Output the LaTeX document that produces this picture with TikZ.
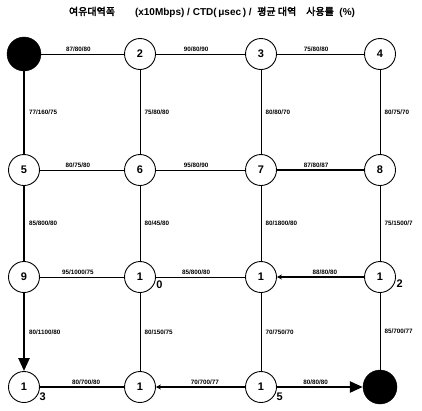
\documentclass[tikz,border=0pt]{standalone}
\usepackage{fontspec}
\setmainfont{Liberation Sans}
\setsansfont{Liberation Sans}
\newfontfamily\krfont[AutoFakeBold=3]{Noto Sans CJK KR}
\usetikzlibrary{arrows.meta}

\begin{document}
\begin{tikzpicture}[
  x=1pt, y=-1pt,
  font=\sffamily\bfseries,
  % Grid pitch: columns 24/140/261/380, rows 54/170/277/387.
  station/.style={draw, circle, minimum size=31pt, inner sep=0pt, line width=0.9pt,
    font=\sffamily\bfseries\fontsize{11}{12}\selectfont},
  endpt/.style={draw, circle, fill=black, minimum size=34pt, inner sep=0pt},
  digit/.style={font=\sffamily\bfseries\fontsize{11}{12}\selectfont, inner sep=0.5pt,
    label distance=0pt},
  link/.style={line width=1pt},
  hop/.style={line width=2.4pt},
  midhop/.style={line width=1.6pt},
  hlab/.style={font=\sffamily\bfseries\fontsize{6.3}{7}\selectfont, above, pos=0.45,
    inner sep=1.5pt},
  vlab/.style={font=\sffamily\bfseries\fontsize{6.3}{7}\selectfont, right, midway,
    inner sep=4pt},
  bigtip/.style={-{Triangle[length=13pt,width=11pt]}},
  smalltip/.style={-{Stealth[length=5pt,width=5pt]}}
]
\useasboundingbox (0,0) rectangle (422,410);

\node[font=\bfseries\fontsize{10}{11}\selectfont] (title) at (212,12)
  {{\krfont\bfseries 여유대역폭}\hspace{2em}(x10Mbps) / CTD(\,μsec\,) / \ {\krfont\bfseries 평균\ 대역\quad 사용률}\ \ (\%)};

% stations
\node[endpt] (n1) at (24,54) {};
\node[station] (n2) at (140,54) {2};
\node[station] (n3) at (261,54) {3};
\node[station] (n4) at (380,54) {4};
\node[station] (n5) at (24,170) {5};
\node[station] (n6) at (140,170) {6};
\node[station] (n7) at (261,170) {7};
\node[station] (n8) at (380,170) {8};
\node[station] (n9) at (24,277) {9};
\node[station, label={[digit]-12:0}] (n10) at (140,277) {1};
\node[station] (n11) at (261,277) {1};
\node[station, label={[digit]-8:2}] (n12) at (380,277) {1};
\node[station, label={[digit]-20:3}] (n13) at (24,387) {1};
\node[station] (n14) at (140,387) {1};
\node[station, label={[digit]-20:5}] (n15) at (261,387) {1};
\node[endpt] (n16) at (380,387) {};

% horizontal links
\draw[link] (n1) -- node[hlab] {87/80/80} (n2);
\draw[link] (n2) -- node[hlab] {90/80/90} (n3);
\draw[link] (n3) -- node[hlab] {75/80/80} (n4);
\draw[link] (n5) -- node[hlab] {80/75/80} (n6);
\draw[link] (n6) -- node[hlab] {95/80/90} (n7);
\draw[midhop] (n7) -- node[hlab] {87/80/87} (n8);
\draw[link] (n9) -- node[hlab] {95/1000/75} (n10);
\draw[link] (n10) -- node[hlab] {85/800/80} (n11);
\draw[midhop, smalltip] (n12) -- node[hlab] {88/80/80} (n11);
\draw[hop] (n14) -- node[hlab] {80/700/80} (n13);
\draw[midhop, smalltip] (n15) -- node[hlab] {70/700/77} (n14);
\draw[hop, bigtip] (n15) -- node[hlab] {80/80/80} (n16);

% vertical links
\draw[hop] (n1) -- node[vlab] {77/160/75} (n5);
\draw[link] (n2) -- node[vlab] {75/80/80} (n6);
\draw[link] (n3) -- node[vlab] {80/80/70} (n7);
\draw[link] (n4) -- node[vlab] {80/75/70} (n8);
\draw[hop] (n5) -- node[vlab] {85/800/80} (n9);
\draw[link] (n6) -- node[vlab] {80/45/80} (n10);
\draw[link] (n7) -- node[vlab] {80/1800/80} (n11);
\draw[link] (n8) -- node[vlab] {75/1500/7} (n12);
\draw[hop, bigtip] (n9) -- node[vlab] {80/1100/80} (n13);
\draw[link] (n10) -- node[vlab] {80/150/75} (n14);
\draw[link] (n11) -- node[vlab] {70/750/70} (n15);
\draw[link] (n12) -- node[vlab] {85/700/77} (n16);
\end{tikzpicture}
\end{document}
